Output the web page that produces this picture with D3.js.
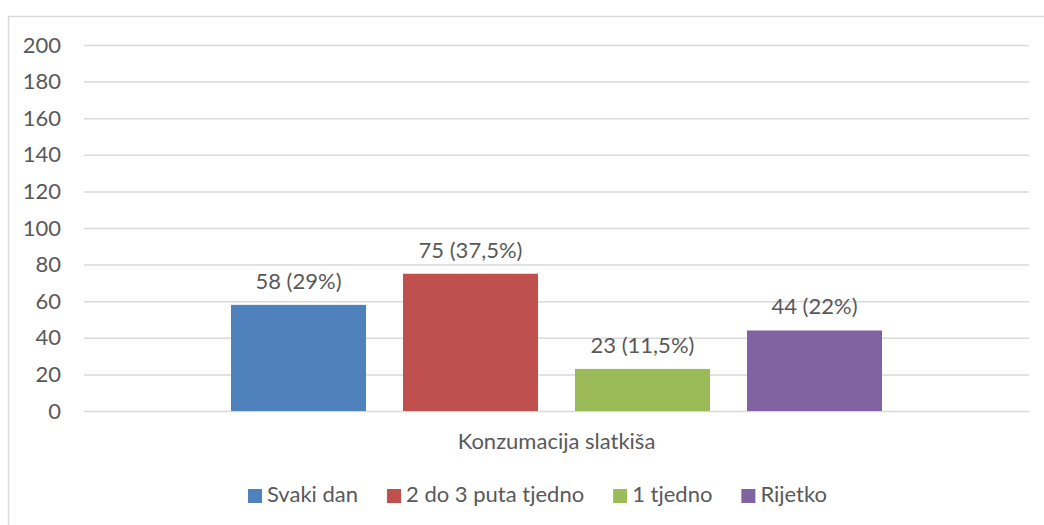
<!DOCTYPE html>
<html>
<head>
<meta charset="utf-8">
<script src="https://cdn.jsdelivr.net/npm/d3@7"></script>
<style>
  body { margin: 0; background: #fff; }
  svg text { font-family: Lato, "Open Sans", sans-serif; fill: #595959; }
</style>
</head>
<body>
<div id="chart"></div>
<script>
// data
const categories = ["Konzumacija slatkiša"];
const seriesNames = ["Svaki dan", "2 do 3 puta tjedno", "1 tjedno", "Rijetko"];
const seriesValues = [58, 75, 23, 44];
const valueLabels = ["58 (29%)", "75 (37,5%)", "23 (11,5%)", "44 (22%)"];
const seriesColors = ["#4f81bd", "#c0504d", "#9bbb59", "#8064a2"];
const yTicks = [0, 20, 40, 60, 80, 100, 120, 140, 160, 180, 200];

const W = 1044, H = 525;
const m = {left: 84, right: 15, top: 45, bottom: 114};
const fs = 22;

const svg = d3.select("#chart").append("svg")
  .attr("width", W).attr("height", H);

// chart border (right & bottom run off the picture)
svg.append("rect")
  .attr("x", 8.5).attr("y", 16.5)
  .attr("width", W + 10).attr("height", H + 10)
  .attr("fill", "none").attr("stroke", "#d9d9d9").attr("stroke-width", 1.5);

const y = d3.scaleLinear().domain([0, 200]).range([H - m.bottom, m.top]);
const x0 = d3.scaleBand().domain(categories)
  .range([m.left, W - m.right]).paddingInner(0).paddingOuter(0.2258);
const x1 = d3.scaleBand().domain(seriesNames)
  .range([0, x0.bandwidth()]).paddingInner(0.215).paddingOuter(0);

// gridlines
const yAxis = svg.append("g")
  .attr("transform", `translate(${m.left},0)`)
  .call(d3.axisLeft(y).tickValues(yTicks).tickSize(-(W - m.left - m.right)).tickPadding(23));
yAxis.select(".domain").remove();
yAxis.selectAll(".tick line").attr("stroke", "#d9d9d9").attr("stroke-width", 1.5);
yAxis.selectAll(".tick text")
  .style("font-size", fs + "px").style("font-family", "Lato").attr("fill", "#595959");

// bars
const g = svg.append("g");
categories.forEach(cat => {
  seriesNames.forEach((s, i) => {
    const bx = x0(cat) + x1(s);
    g.append("rect")
      .attr("x", bx).attr("y", y(seriesValues[i]))
      .attr("width", x1.bandwidth())
      .attr("height", y(0) - y(seriesValues[i]))
      .attr("fill", seriesColors[i]);
    g.append("text")
      .attr("x", bx + x1.bandwidth() / 2)
      .attr("y", y(seriesValues[i]) - 16)
      .attr("text-anchor", "middle")
      .style("font-size", fs + "px")
      .text(valueLabels[i]);
  });
});

// category label
svg.append("text")
  .attr("x", x0(categories[0]) + x0.bandwidth() / 2)
  .attr("y", 449)
  .attr("text-anchor", "middle")
  .style("font-size", fs + "px")
  .text(categories[0]);

// legend
const leg = svg.append("g");
let lx = 0;
seriesNames.forEach((s, i) => {
  const it = leg.append("g").attr("transform", `translate(${lx},0)`);
  it.append("rect").attr("x", 0).attr("y", -13).attr("width", 14).attr("height", 14)
    .attr("fill", seriesColors[i]);
  const t = it.append("text").attr("x", 19).attr("y", 0)
    .style("font-size", fs + "px").text(s);
  lx += 19 + t.node().getComputedTextLength() + 29;
});
lx -= 29;
leg.attr("transform", `translate(${537.5 - lx / 2},502)`);
</script>
</body>
</html>
